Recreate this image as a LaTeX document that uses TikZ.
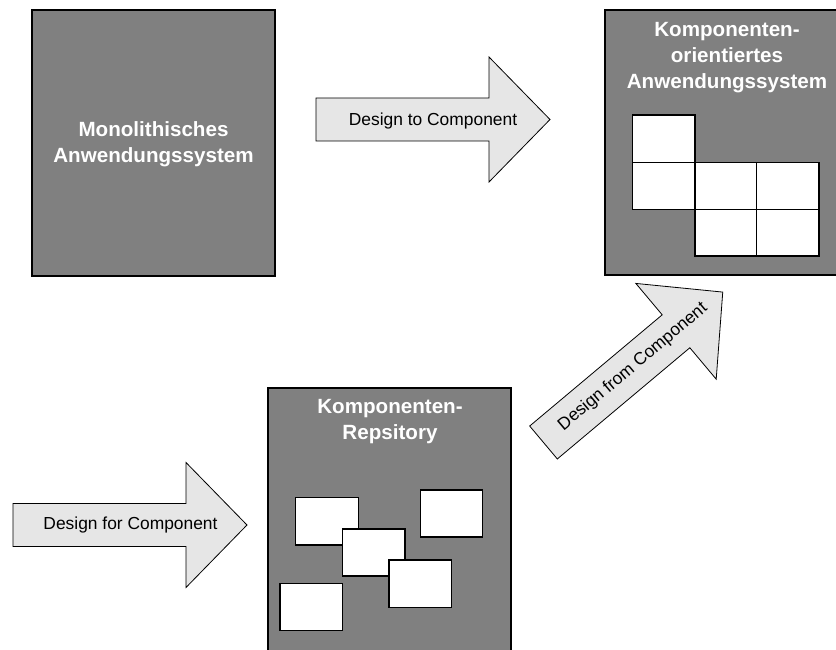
\documentclass[tikz,border=0pt]{standalone}
\usepackage{fontspec}
\setmainfont{Liberation Sans}
\definecolor{boxgray}{HTML}{808080}
\definecolor{arrowgray}{HTML}{E6E6E6}
\begin{document}
\begin{tikzpicture}[x=1pt,y=-1pt,
  bigbox/.style={draw=black, line width=1.6pt, fill=boxgray, inner sep=0pt, rectangle},
  comp/.style={draw=black, line width=1.3pt, fill=white},
  arrowshape/.style={draw=black, line width=0.8pt, fill=arrowgray, line join=miter},
  boxtitle/.style={text=white, font=\bfseries\fontsize{20.6}{26}\selectfont, align=center, inner sep=0pt, anchor=north},
  arrowlabel/.style={font=\fontsize{17.4}{21}\selectfont, inner sep=0pt},
  blockarrow/.pic={
    \path[arrowshape] (0,-21.5) -- (173,-21.5) -- (173,-62.5) -- (234,0) -- (173,62.5) -- (173,21.5) -- (0,21.5) -- cycle;
  }
]
\useasboundingbox (0,0) rectangle (836,650);

% big boxes
\node[bigbox, minimum width=243pt, minimum height=266pt] (mono) at (153.5,143) {};
\node[bigbox, minimum width=245pt, minimum height=265pt] (kos) at (727.5,142.5) {};
\node[bigbox, minimum width=243pt, minimum height=282pt] (repo) at (389.5,529) {};

% titles
\node[boxtitle] (monotitle) at (153.5,121) {Monolithisches\\Anwendungssystem};
\node[boxtitle] (kostitle) at (727,22) {Komponenten-\\orientiertes\\Anwendungssystem};
\node[boxtitle] (repotitle) at (390,399) {Komponenten-\\Repsitory};

% components in the component-oriented system
\draw[comp] (632.3,115) rectangle (695,162.3);
\draw[comp] (632.3,162.3) rectangle (695,209.3);
\draw[comp] (695,162.3) rectangle (756.7,209.3);
\draw[comp] (756.7,162.3) rectangle (819,209.3);
\draw[comp] (695,209.3) rectangle (756.7,256);
\draw[comp] (756.7,209.3) rectangle (819,256);

% components in the repository
\draw[comp] (295.7,497.7) rectangle (358.3,545);
\draw[comp] (342.3,529) rectangle (405,576);
\draw[comp] (420.3,490) rectangle (482.7,537);
\draw[comp] (389,560) rectangle (451.7,607.3);
\draw[comp] (280,583.3) rectangle (342.7,630.7);

% block arrows
\pic at (316,119.5) {blockarrow};
\node[arrowlabel] (lblto) at (433,121) {Design to Component};

\pic at (13,525) {blockarrow};
\node[arrowlabel] (lblfor) at (130.5,525) {Design for Component};

\pic[rotate=40] at (543.5,442.5) {blockarrow};
\node[arrowlabel, rotate=40] (lblfrom) at (633,367) {Design from Component};
\end{tikzpicture}
\end{document}
